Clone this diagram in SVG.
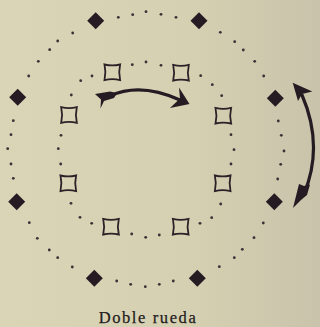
<svg xmlns="http://www.w3.org/2000/svg" xmlns:xlink="http://www.w3.org/1999/xlink" width="320" height="327" viewBox="0 0 320 327">
<defs>
<linearGradient id="bg" x1="0" y1="0" x2="1" y2="0">
<stop offset="0" stop-color="#dbd5b7"/>
<stop offset="0.6" stop-color="#d6d0b2"/>
<stop offset="1" stop-color="#c8c3aa"/>
</linearGradient>
<path id="dia" d="M0,-8.5 L8.5,0 L0,8.5 L-8.5,0 Z"/>
<path id="sq" d="M-7.8,-7.8 Q0,-6 7.8,-7.8 Q6,0 7.8,7.8 Q0,6 -7.8,7.8 Q-6,0 -7.8,-7.8 Z"/>
</defs>
<style>
.dia{fill:#241c22}
.sq{fill:none;stroke:#2a2227;stroke-width:1.8;stroke-linejoin:miter}
.dots circle{fill:#3a3036}
.shaft{fill:none;stroke:#241c22;stroke-width:3.2;stroke-linecap:round}
.head{fill:#241c22}
.label{font-family:"Liberation Serif","DejaVu Serif",serif;font-size:16.5px;fill:#241c20;stroke:#241c20;stroke-width:0.25;letter-spacing:1.6px}
</style>
<rect width="320" height="327" fill="url(#bg)"/>

<g id="rings" class="dots">
<circle cx="118.3" cy="17.3" r="1.4"/><circle cx="132.7" cy="14.7" r="1.4"/><circle cx="146" cy="11.7" r="1.4"/><circle cx="161" cy="14.3" r="1.4"/><circle cx="176" cy="17.3" r="1.4"/>
<circle cx="72.7" cy="33" r="1.4"/><circle cx="57.7" cy="41" r="1.4"/><circle cx="49.7" cy="49.7" r="1.4"/><circle cx="38.3" cy="61.3" r="1.4"/><circle cx="28.7" cy="76" r="1.4"/>
<circle cx="13.3" cy="120.7" r="1.4"/><circle cx="11" cy="134.7" r="1.4"/><circle cx="7.7" cy="148.7" r="1.4"/><circle cx="11" cy="164" r="1.4"/><circle cx="13.3" cy="178.3" r="1.4"/>
<circle cx="29.3" cy="222.7" r="1.4"/><circle cx="37.3" cy="238.3" r="1.4"/><circle cx="49.3" cy="250" r="1.4"/><circle cx="57.7" cy="257.7" r="1.4"/><circle cx="72.3" cy="267" r="1.4"/>
<circle cx="116.7" cy="281" r="1.4"/><circle cx="130.7" cy="284.3" r="1.4"/><circle cx="145.3" cy="286.7" r="1.4"/><circle cx="159.3" cy="284.3" r="1.4"/><circle cx="173.3" cy="281" r="1.4"/>
<circle cx="219.3" cy="266.7" r="1.4"/><circle cx="234.3" cy="257.7" r="1.4"/><circle cx="242.3" cy="249.3" r="1.4"/><circle cx="254" cy="237.7" r="1.4"/><circle cx="263.3" cy="223" r="1.4"/>
<circle cx="277.7" cy="179" r="1.4"/><circle cx="280.7" cy="164.3" r="1.4"/><circle cx="284" cy="151" r="1.4"/><circle cx="281.3" cy="135.3" r="1.4"/><circle cx="278.3" cy="121" r="1.4"/>
<circle cx="220.3" cy="32.3" r="1.4"/><circle cx="234.7" cy="41.7" r="1.4"/><circle cx="243.3" cy="50" r="1.4"/><circle cx="254.7" cy="61.3" r="1.4"/><circle cx="263.7" cy="76" r="1.4"/>
<circle cx="92" cy="76" r="1.4"/><circle cx="80.7" cy="80.7" r="1.4"/><circle cx="71.3" cy="95" r="1.4"/>
<circle cx="61" cy="135.3" r="1.4"/><circle cx="58.3" cy="148.7" r="1.4"/><circle cx="60.7" cy="164" r="1.4"/>
<circle cx="132.3" cy="64.7" r="1.4"/><circle cx="146" cy="62" r="1.4"/><circle cx="161" cy="65.3" r="1.4"/>
<circle cx="200.7" cy="75.7" r="1.4"/><circle cx="212.3" cy="84.7" r="1.4"/><circle cx="221.7" cy="95.7" r="1.4"/>
<circle cx="231" cy="134.7" r="1.4"/><circle cx="234" cy="149.7" r="1.4"/><circle cx="231" cy="164" r="1.4"/>
<circle cx="220.7" cy="204" r="1.4"/><circle cx="211.7" cy="217.7" r="1.4"/><circle cx="200" cy="223.3" r="1.4"/>
<circle cx="131.7" cy="234" r="1.4"/><circle cx="145.7" cy="237.3" r="1.4"/><circle cx="159.3" cy="235" r="1.4"/>
<circle cx="71" cy="203.3" r="1.4"/><circle cx="80" cy="217.3" r="1.4"/><circle cx="91.7" cy="223.3" r="1.4"/>
</g>

<g id="outer-1"><use xlink:href="#dia" class="dia" x="95.7" y="20.7"/></g>
<g id="outer-2"><use xlink:href="#dia" class="dia" x="199" y="20.7"/></g>
<g id="outer-3"><use xlink:href="#dia" class="dia" x="275.3" y="98.3"/></g>
<g id="outer-4"><use xlink:href="#dia" class="dia" x="274.3" y="201.7"/></g>
<g id="outer-5"><use xlink:href="#dia" class="dia" x="197.3" y="278.3"/></g>
<g id="outer-6"><use xlink:href="#dia" class="dia" x="94.3" y="278.3"/></g>
<g id="outer-7"><use xlink:href="#dia" class="dia" x="16.7" y="201.7"/></g>
<g id="outer-8"><use xlink:href="#dia" class="dia" x="17.7" y="97.3"/></g>

<g id="inner-1"><use xlink:href="#sq" class="sq" x="112.3" y="72.3"/></g>
<g id="inner-2"><use xlink:href="#sq" class="sq" x="181" y="72.7"/></g>
<g id="inner-3"><use xlink:href="#sq" class="sq" x="223.3" y="115.7"/></g>
<g id="inner-4"><use xlink:href="#sq" class="sq" x="222.7" y="183.3"/></g>
<g id="inner-5"><use xlink:href="#sq" class="sq" x="180.7" y="226.7"/></g>
<g id="inner-6"><use xlink:href="#sq" class="sq" x="111" y="226.7"/></g>
<g id="inner-7"><use xlink:href="#sq" class="sq" x="68.3" y="183.3"/></g>
<g id="inner-8"><use xlink:href="#sq" class="sq" x="69" y="115"/></g>

<g id="connectors">
<path class="shaft" d="M110,96 Q140,82 180,100"/>
<path class="head" d="M189.5,104 L179,87.5 L180,98.5 L170,108 Z"/>
<path class="head" d="M95,94 L110,91.5 L117,93 L114,98 L104,101 L100.5,108.5 L101,99.5 Z"/>
<path class="shaft" d="M302,95 Q324,146 304,194"/>
<path class="head" d="M292.7,82.7 L312.3,91.5 L302,94 L298,101 Z"/>
<path class="head" d="M293,208 L299,184 L304,186 L310,184.5 L307,195 L301,200 Z"/>
</g>

<text class="label" x="148" y="322.5" text-anchor="middle">Doble rueda</text>
</svg>
